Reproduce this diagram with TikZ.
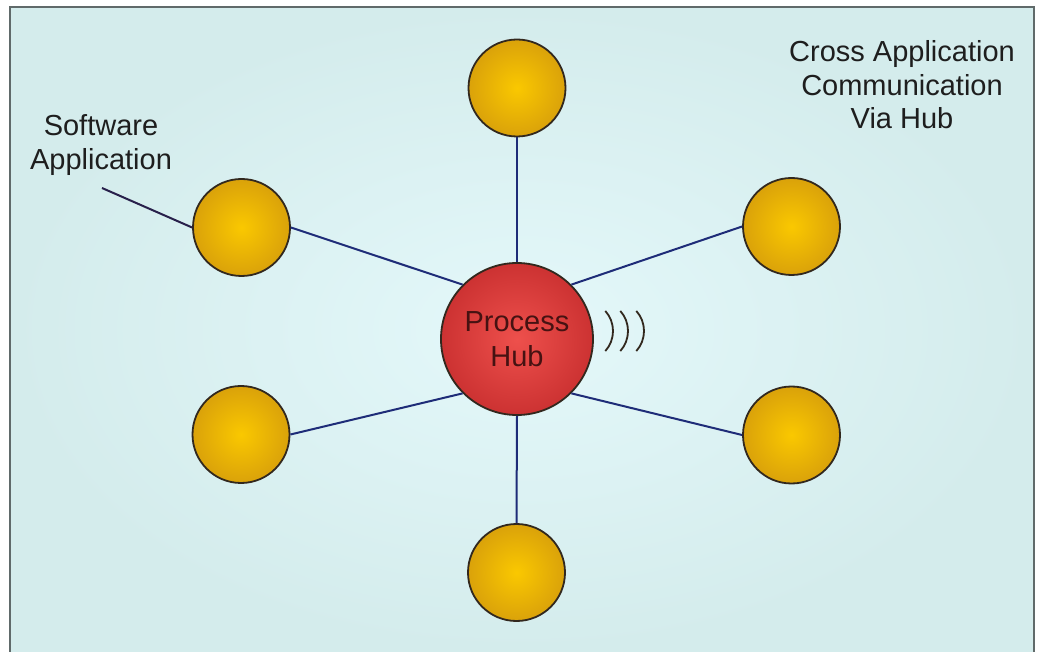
\documentclass[tikz,border=0pt]{standalone}
\usepackage{fontspec}
\setmainfont{Liberation Sans}
\usetikzlibrary{shadings}
\definecolor{bgedge}{RGB}{212,236,236}
\definecolor{bgmid}{RGB}{228,248,250}
\definecolor{framec}{RGB}{96,106,106}
\definecolor{goldin}{RGB}{250,200,0}
\definecolor{goldout}{RGB}{218,162,10}
\definecolor{redin}{RGB}{238,80,76}
\definecolor{redout}{RGB}{204,50,50}
\definecolor{ringc}{RGB}{50,40,30}
\definecolor{linkc}{RGB}{30,44,120}
\definecolor{hubtext}{RGB}{70,18,18}
\definecolor{txtc}{RGB}{30,30,30}
\tikzset{
  app/.style={circle, minimum size=97pt, inner sep=0pt, draw=ringc, line width=1.8pt,
              inner color=goldin, outer color=goldout},
  hub/.style={circle, minimum size=152pt, inner sep=0pt, draw=ringc, line width=1.8pt,
              inner color=redin, outer color=redout, text=hubtext, align=center,
              font=\fontsize{29}{35}\selectfont},
  link/.style={draw=linkc, line width=2pt},
  label/.style={text=txtc, align=center, font=\fontsize{29}{33.5}\selectfont, inner sep=0pt},
  pointer/.style={draw=ringc!80!blue, line width=2pt},
  wave/.style={draw=ringc, line width=1.8pt}
}
\begin{document}
\begin{tikzpicture}[x=1pt,y=-1pt]
\useasboundingbox (0,0) rectangle (1037,652);
\fill[white] (0,0) rectangle (1037,652);
\shade[inner color=bgmid, outer color=bgedge] (10,7) rectangle (1034,652);
\draw[framec, line width=2pt] (10,652) -- (10,7) -- (1034,7) -- (1034,652);

\node[hub] (H) at (517,339) {Process\\Hub};
\node[app] (T) at (517,88) {};
\node[app] (B) at (516.5,572.5) {};
\node[app] (UL) at (241.5,227.5) {};
\node[app] (UR) at (791.5,226.5) {};
\node[app] (LL) at (241,434.5) {};
\node[app] (LR) at (791.5,435) {};

\draw[link] (H.north) -- (T.south);
\draw[link] (H.south) -- (B.north);
\draw[link] (H.135) -- (UL.east);
\draw[link] (H.45) -- (UR.west);
\draw[link] (H.225) -- (LL.east);
\draw[link] (H.-45) -- (LR.west);

\node[label] (SA) at (101,145) {Software\\Application};
\coordinate (P) at (102,188);
\draw[pointer] (P) -- (UL.west);

\node[label] (CA) at (902,85) {Cross Application\\Communication\\Via Hub};

\coordinate (W) at (583,331);
\foreach \d in {0,15,31}{
  \draw[wave] ([xshift=\d pt]W) ++(-42:30pt) arc[start angle=-42, end angle=42, radius=30pt];
}
\end{tikzpicture}
\end{document}
